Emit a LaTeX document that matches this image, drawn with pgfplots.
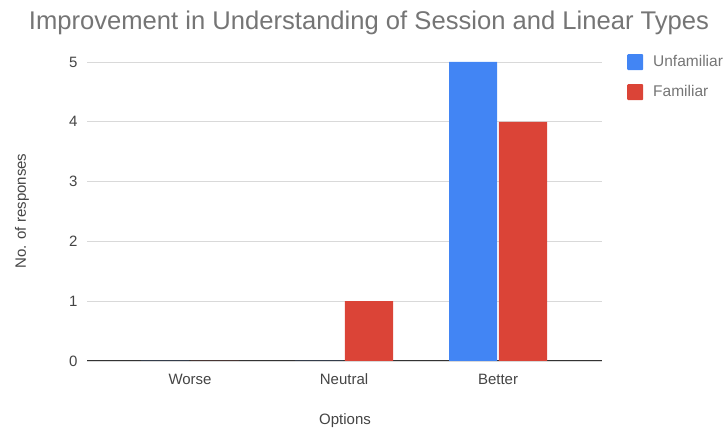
\documentclass[border=0pt]{standalone}
\usepackage{fontspec}
\setmainfont{Liberation Sans}
\usepackage{pgfplots}
\pgfplotsset{compat=1.18}

\definecolor{gblue}{HTML}{4285F4}
\definecolor{gred}{HTML}{DB4437}
\definecolor{titlegray}{HTML}{757575}
\definecolor{labelgray}{HTML}{444444}
\definecolor{gridgray}{HTML}{D9D9D9}
\definecolor{basegray}{HTML}{333333}

\begin{document}
\begin{tikzpicture}[x=1pt,y=1pt]
\useasboundingbox (0,0) rectangle (727,430);

\begin{axis}[
  at={(87pt,69pt)}, anchor=south west,
  width=515pt, height=299pt, scale only axis,
  xmin=-0.669, xmax=2.675,
  ymin=0, ymax=5,
  xtick={0,1,2},
  xticklabels={Worse,Neutral,Better},
  ytick={0,1,2,3,4,5},
  /pgf/number format/assume math mode=true,
  axis x line*=bottom, axis y line*=left,
  x axis line style={draw=basegray, line width=1pt, -},
  y axis line style={draw=none},
  major tick length=0pt,
  ymajorgrids, grid style={draw=gridgray, line width=0.8pt},
  tick label style={font=\fontsize{15}{17}\selectfont, text=labelgray},
  yticklabel style={anchor=east, xshift=-6pt},
  xticklabel style={anchor=base, yshift=-24pt},
  ybar, bar width=0.312,
  legend style={at={(1.0485,1.027)}, anchor=north west, draw=none, fill=none,
    inner sep=0pt, row sep=14pt, column sep=10pt,
    font=\fontsize{15.5}{17}\selectfont,
    text=titlegray, nodes={inner sep=0pt}},
  legend cell align=left,
  legend image code/.code={\path[#1, draw=none, rounded corners=1pt] (0pt,-8pt) rectangle (16pt,8pt);},
]
\addplot[fill=gblue, draw=none, bar shift=-0.162] coordinates {(0,0) (1,0) (2,5)};
\addplot[fill=gred, draw=none, bar shift=0.162] coordinates {(0,0) (1,1) (2,4)};
\legend{Unfamiliar, Familiar}
\end{axis}

\node[text=titlegray, font=\fontsize{25.6}{30}\selectfont] at (369,407) {Improvement in Understanding of Session and Linear Types};
\node[text=labelgray, font=\fontsize{15}{17}\selectfont] at (345,9) {Options};
\node[text=labelgray, font=\fontsize{15}{17}\selectfont, rotate=90] at (22,219) {No. of responses};
\end{tikzpicture}
\end{document}
